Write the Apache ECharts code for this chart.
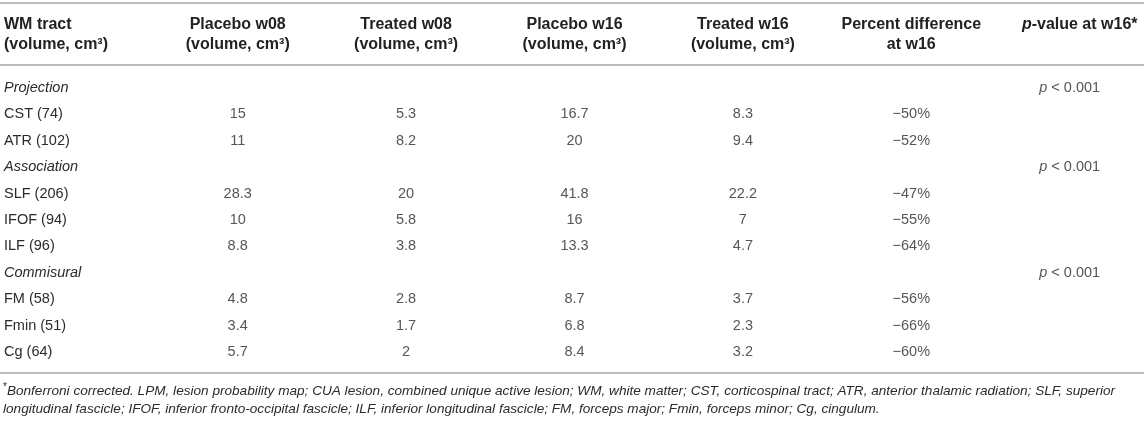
<!DOCTYPE html>
<html>
<head>
<meta charset="utf-8">
<script src="https://cdn.jsdelivr.net/npm/echarts@6/dist/echarts.min.js"></script>
<style>
html, body { margin: 0; padding: 0; background: #fff; }
#main { width: 1144px; height: 421px; }
</style>
</head>
<body>
<div id="main"></div>
<script>
// table content
var headers = ['WM tract\n(volume, cm³)', 'Placebo w08\n(volume, cm³)', 'Treated w08\n(volume, cm³)',
    'Placebo w16\n(volume, cm³)', 'Treated w16\n(volume, cm³)', 'Percent difference\nat w16', 'p-value at w16*'];
var rows = ['Projection', 'CST (74)', 'ATR (102)', 'Association', 'SLF (206)', 'IFOF (94)', 'ILF (96)',
    'Commisural', 'FM (58)', 'Fmin (51)', 'Cg (64)'];
var groups = ['Projection', 'Association', 'Commisural'];
var tracts = ['CST (74)', 'ATR (102)', 'SLF (206)', 'IFOF (94)', 'ILF (96)', 'FM (58)', 'Fmin (51)', 'Cg (64)'];
var placeboW08 = [15, 11, 28.3, 10, 8.8, 4.8, 3.4, 5.7];
var treatedW08 = [5.3, 8.2, 20, 5.8, 3.8, 2.8, 1.7, 2];
var placeboW16 = [16.7, 20, 41.8, 16, 13.3, 8.7, 6.8, 8.4];
var treatedW16 = [8.3, 9.4, 22.2, 7, 4.7, 3.7, 2.3, 3.2];
var pctDiff = [-50, -52, -47, -55, -64, -56, -66, -60];
var pValues = ['< 0.001', '< 0.001', '< 0.001'];
var footnote = [
    'Bonferroni corrected. LPM, lesion probability map; CUA lesion, combined unique active lesion; WM, white matter; CST, corticospinal tract; ATR, anterior thalamic radiation; SLF, superior',
    'longitudinal fascicle; IFOF, inferior fronto-occipital fascicle; ILF, inferior longitudinal fascicle; FM, forceps major; Fmin, forceps minor; Cg, cingulum.'
];

var FONT = '"Liberation Sans", Arial, Helvetica, sans-serif';
var HEAD = '#222';
var TXT = '#2b2b2b';
var RULE = '#bcbcbc';

var myChart = echarts.init(document.getElementById('main'));

function cells(col, values) {
    return values.map(function(v, i) { return [col, tracts[i], v]; });
}

function cellSeries(data, fmt, extra) {
    var s = {
        type: 'scatter',
        silent: true,
        symbolSize: 0,
        itemStyle: { color: 'transparent' },
        data: data,
        label: {
            show: true,
            position: 'inside',
            color: TXT,
            fontFamily: FONT,
            fontSize: 14.5,
            formatter: fmt
        }
    };
    if (extra) {
        for (var k in extra) s.label[k] = extra[k];
    }
    return s;
}

function plain(p) { return String(p.value[2]); }

var option = {
    animation: false,
    grid: { left: 237.7, right: 64.3, top: 74.8, bottom: 55.8 },
    xAxis: {
        type: 'category',
        position: 'top',
        boundaryGap: false,
        data: headers.slice(1),
        axisLine: { show: false },
        axisTick: { show: false },
        splitLine: { show: false },
        axisLabel: {
            interval: 0,
            margin: 20,
            color: HEAD,
            fontFamily: FONT,
            fontSize: 16,
            fontWeight: 'bold',
            lineHeight: 20,
            formatter: function(v) {
                if (v.indexOf('p-value') === 0) {
                    return '{pi|p}{b|' + v.slice(1) + '}\n ';
                }
                return v;
            },
            rich: {
                pi: { fontStyle: 'italic', fontWeight: 'bold', fontSize: 16, fontFamily: FONT, color: HEAD, lineHeight: 20 },
                b: { fontWeight: 'bold', fontSize: 16, fontFamily: FONT, color: HEAD, lineHeight: 20 }
            }
        }
    },
    yAxis: {
        type: 'category',
        inverse: true,
        data: rows,
        axisLine: { show: false },
        axisTick: { show: false },
        splitLine: { show: false },
        axisLabel: {
            interval: 0,
            align: 'left',
            margin: 233.7,
            color: TXT,
            fontFamily: FONT,
            fontSize: 14.5,
            formatter: function(v) {
                return groups.indexOf(v) >= 0 ? '{g|' + v + '}' : v;
            },
            rich: {
                g: { fontStyle: 'italic', fontFamily: FONT, fontSize: 14.5, color: TXT }
            }
        }
    },
    graphic: [
        { type: 'line', shape: { x1: 0, y1: 3, x2: 1144, y2: 3 }, style: { stroke: RULE, lineWidth: 2 }, silent: true },
        { type: 'line', shape: { x1: 0, y1: 65, x2: 1144, y2: 65 }, style: { stroke: RULE, lineWidth: 2 }, silent: true },
        { type: 'line', shape: { x1: 0, y1: 373, x2: 1144, y2: 373 }, style: { stroke: RULE, lineWidth: 2 }, silent: true },
        {
            type: 'text', left: 4, top: 15, silent: true,
            style: {
                text: headers[0], fill: HEAD, font: 'bold 16px ' + FONT, lineHeight: 20
            }
        },
        {
            type: 'text', left: 3, top: 382, silent: true,
            style: {
                text: '{s|*}{i|' + footnote[0] + '}\n{i|' + footnote[1] + '}',
                rich: {
                    s: { fill: TXT, fontSize: 10, fontFamily: FONT, verticalAlign: 'top', lineHeight: 18 },
                    i: { fill: TXT, fontSize: 13.6, fontStyle: 'italic', fontFamily: FONT, lineHeight: 18 }
                }
            }
        }
    ],
    series: [
        cellSeries(cells(0, placeboW08), plain),
        cellSeries(cells(1, treatedW08), plain),
        cellSeries(cells(2, placeboW16), plain),
        cellSeries(cells(3, treatedW16), plain),
        cellSeries(cells(4, pctDiff), function(p) {
            return '\u2212' + Math.abs(p.value[2]) + '%';
        }),
        cellSeries(groups.map(function(g, i) { return [5, g, pValues[i]]; }), function(p) {
            return '{pi|p} ' + p.value[2];
        }, {
            offset: [-10, 0],
            rich: { pi: { fontStyle: 'italic', fontFamily: FONT, fontSize: 14.5, color: TXT } }
        })
    ]
};
myChart.setOption(option);
</script>
</body>
</html>
